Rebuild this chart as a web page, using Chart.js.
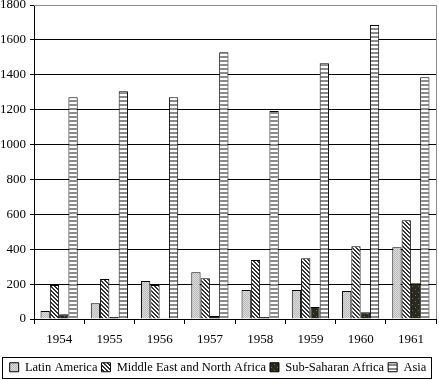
<!DOCTYPE html>
<html>
<head>
<meta charset="utf-8">
<script src="https://cdn.jsdelivr.net/npm/chart.js@4.4.1/dist/chart.umd.min.js"></script>
<style>
  html, body { margin: 0; padding: 0; background: #fff; }
  #wrap { width: 439px; height: 380px; }
</style>
</head>
<body>
<div id="wrap"><canvas id="barChart" width="439" height="380"></canvas></div>
<script>
var years = ['1954', '1955', '1956', '1957', '1958', '1959', '1960', '1961'];
var latinAmerica = [46, 90, 218, 268, 166, 166, 160, 411];
var middleEast = [195, 229, 195, 233, 338, 348, 417, 566];
var subSaharan = [27, 11, 4, 17, 11, 69, 38, 205];
var asia = [1271, 1305, 1271, 1529, 1193, 1466, 1686, 1386];
var yTicks = [0, 200, 400, 600, 800, 1000, 1200, 1400, 1600, 1800];

// little canvas patterns for the fills
function makePattern(w, h, draw) {
    var c = document.createElement('canvas');
    c.width = w; c.height = h;
    var g = c.getContext('2d');
    draw(g);
    return g.createPattern(c, 'repeat');
}
var dotted = makePattern(2, 2, function (g) {
    g.fillStyle = '#dadada'; g.fillRect(0, 0, 2, 2);
    g.fillStyle = '#bdbdbd'; g.fillRect(0, 0, 1, 1); g.fillRect(1, 1, 1, 1);
});
var diag = makePattern(4, 4, function (g) {
    g.fillStyle = '#fff'; g.fillRect(0, 0, 4, 4);
    g.fillStyle = '#333';
    for (var i = 0; i < 4; i++) { g.fillRect(i, i, 1, 1); g.fillRect((i + 1) % 4, i, 1, 1); }
});
var darkDots = makePattern(6, 6, function (g) {
    g.fillStyle = '#2a2a1c'; g.fillRect(0, 0, 6, 6);
    g.fillStyle = '#6f6f55'; g.fillRect(1, 1, 1, 1); g.fillRect(4, 4, 1, 1);
});
var stripes = makePattern(4, 4, function (g) {
    g.fillStyle = '#fff'; g.fillRect(0, 0, 4, 4);
    g.fillStyle = '#8a8a8a'; g.fillRect(0, 0, 4, 2);
});

var frame = {
    id: 'frame',
    afterDraw: function (chart) {
        var ctx = chart.ctx, a = chart.chartArea, l = chart.legend;
        ctx.save();
        ctx.strokeStyle = '#8c8c8c';
        ctx.lineWidth = 1;
        ctx.beginPath();
        ctx.moveTo(a.left, a.top + 0.5);
        ctx.lineTo(a.right + 0.5, a.top + 0.5);
        ctx.lineTo(a.right + 0.5, a.bottom);
        ctx.stroke();
        ctx.strokeStyle = '#000';
        ctx.strokeRect(2.5, l.top + 0.5, 429, l.bottom - l.top - 1);
        ctx.restore();
    }
};

var serif = "'Liberation Serif', 'DejaVu Serif', serif";
var ctx = document.getElementById('barChart').getContext('2d');
var chart = new Chart(ctx, {
    type: 'bar',
    data: {
        labels: years,
        datasets: [
            { label: 'Latin America', data: latinAmerica, backgroundColor: dotted },
            { label: 'Middle East and North Africa', data: middleEast, backgroundColor: diag },
            { label: 'Sub-Saharan Africa', data: subSaharan, backgroundColor: darkDots },
            { label: 'Asia', data: asia, backgroundColor: stripes }
        ].map(function (d) {
            d.borderColor = '#000'; d.borderWidth = 1;
            d.categoryPercentage = 0.74; d.barPercentage = 1;
            return d;
        })
    },
    options: {
        responsive: false,
        animation: false,
        layout: { padding: { top: 5, right: 3, left: 0, bottom: 1 } },
        plugins: {
            tooltip: { enabled: false },
            legend: {
                position: 'bottom',
                labels: {
                    color: '#000',
                    font: { family: serif, size: 12.5 },
                    boxWidth: 9, boxHeight: 9, padding: 4
                }
            }
        },
        scales: {
            x: {
                grid: { offset: true, drawOnChartArea: false, drawTicks: true, tickLength: 5, color: '#000' },
                border: { color: '#000' },
                ticks: { color: '#000', font: { family: serif, size: 13 }, padding: 8 },
                afterFit: function (s) { s.height = 38; }
            },
            y: {
                min: 0, max: 1800,
                afterFit: function (s) { s.width = 34; s.paddingTop = 0; s.paddingBottom = 0; },
                afterBuildTicks: function (s) { s.ticks = yTicks.map(function (v) { return { value: v }; }); },
                grid: { color: '#000', tickLength: 4 },
                border: { color: '#000' },
                ticks: {
                    color: '#000', font: { family: serif, size: 13 }, padding: 4,
                    callback: function (v) { return String(v); }
                }
            }
        }
    },
    plugins: [frame]
});

// legend box is a fixed 22px strip at the bottom
var legendFit = chart.legend.fit;
chart.legend.fit = function () {
    legendFit.call(this);
    this.height = 22;
};
chart.update();
</script>
</body>
</html>
